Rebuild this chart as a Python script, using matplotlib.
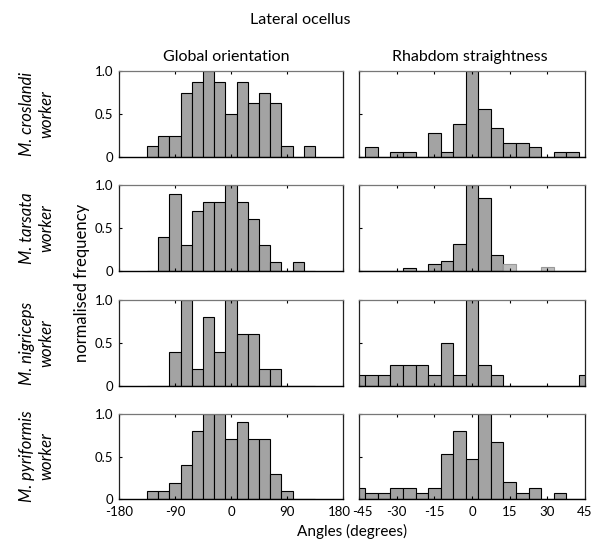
import numpy as np
import matplotlib
matplotlib.use("Agg")
import matplotlib.pyplot as plt
from matplotlib.transforms import ScaledTranslation

plt.rcParams['font.family'] = ['Lato', 'DejaVu Sans']

species = ["M. croslandi", "M. tarsata", "M. nigriceps", "M. pyriformis"]

# Global orientation: bin centres (degrees), 18-degree bins
glob_centers = [-126, -108, -90, -72, -54, -36, -18, 0, 18, 36, 54, 72, 90, 108, 126]
glob_croslandi = [0.125, 0.25, 0.25, 0.75, 0.875, 1.0, 0.875, 0.5, 0.875, 0.625, 0.75, 0.625, 0.125, 0, 0.125]
glob_tarsata = [0, 0.4, 0.9, 0.3, 0.7, 0.8, 0.8, 1.0, 0.8, 0.6, 0.3, 0.1, 0, 0.1, 0]
glob_nigriceps = [0, 0, 0.4, 1.0, 0.2, 0.8, 0.4, 1.0, 0.6, 0.6, 0.2, 0.2, 0, 0, 0]
glob_pyriformis = [0.09, 0.09, 0.19, 0.40, 0.80, 1.0, 1.0, 0.71, 0.91, 0.71, 0.71, 0.29, 0.09, 0, 0]

# Rhabdom straightness: bin centres (degrees), 5-degree bins
rhab_centers = [-45, -40, -35, -30, -25, -20, -15, -10, -5, 0, 5, 10, 15, 20, 25, 30, 35, 40, 45]
rhab_croslandi = [0, 0.111, 0, 0.056, 0.056, 0, 0.278, 0.056, 0.389, 1.0, 0.556, 0.333, 0.167, 0.167, 0.111, 0, 0.056, 0.056, 0]
rhab_tarsata = [0, 0, 0, 0, 0.038, 0, 0.077, 0.115, 0.31, 1.0, 0.846, 0.19, 0, 0, 0, 0, 0, 0, 0]
rhab_tarsata_light = [0, 0, 0, 0, 0, 0, 0, 0, 0, 0, 0, 0, 0.085, 0, 0, 0.046, 0, 0, 0]
rhab_nigriceps = [0.125, 0.125, 0.125, 0.25, 0.25, 0.25, 0.125, 0.5, 0.125, 1.0, 0.25, 0.125, 0, 0, 0, 0, 0, 0, 0.125]
rhab_pyriformis = [0.133, 0.067, 0.067, 0.133, 0.133, 0.067, 0.133, 0.533, 0.8, 0.467, 1.0, 0.667, 0.2, 0.067, 0.133, 0, 0.067, 0, 0]

glob_data = [glob_croslandi, glob_tarsata, glob_nigriceps, glob_pyriformis]
rhab_data = [rhab_croslandi, rhab_tarsata, rhab_nigriceps, rhab_pyriformis]
rhab_light = [None, rhab_tarsata_light, None, None]

glob_ticks = [-180, -90, 0, 90, 180]
rhab_ticks = [-45, -30, -15, 0, 15, 30, 45]
y_ticks = [0, 0.5, 1.0]
y_ticklabels = ["0", "0.5", "1.0"]

W, H = 593, 551
fig = plt.figure(figsize=(W / 100, H / 100), dpi=100)

rows_px = [(71, 157), (185, 271), (300, 386), (414, 499)]
left_px = (119, 343)
right_px = (359, 585)

BAR = "#a3a3a3"
LIGHT = "#bdbdbd"


def make_ax(xpx, ypx):
    x0, x1 = xpx
    y0, y1 = ypx
    return fig.add_axes([x0 / W, 1 - y1 / H, (x1 - x0) / W, (y1 - y0) / H])


def style(ax, xlim, xticks, show_xlabels, show_ylabels):
    ax.set_xlim(*xlim)
    ax.set_ylim(0, 1.0)
    ax.set_xticks(xticks)
    ax.set_yticks(y_ticks)
    if show_ylabels:
        ax.set_yticklabels(y_ticklabels)
    else:
        ax.set_yticklabels([])
    if show_xlabels:
        ax.set_xticklabels([str(t) for t in xticks])
    else:
        ax.set_xticklabels([])
    ax.tick_params(direction="in", length=2.5, width=0.8, top=True, right=False,
                   labelsize=9.5, colors="black")
    ax.tick_params(axis="x", pad=5)
    ax.tick_params(axis="y", pad=4)
    for s in ["left", "bottom", "right"]:
        ax.spines[s].set_color("#222222")
        ax.spines[s].set_linewidth(0.9)
    ax.spines["top"].set_color("#777777")
    ax.spines["top"].set_linewidth(0.9)
    ax.spines["bottom"].set_color("black")
    ax.spines["bottom"].set_linewidth(1.0)


def nudge(label, dx_px):
    label.set_transform(label.get_transform() +
                        ScaledTranslation(dx_px / 100, 0, fig.dpi_scale_trans))


for i in range(4):
    axl = make_ax(left_px, rows_px[i])
    axl.bar(glob_centers, glob_data[i], width=18, color=BAR, edgecolor="black",
            linewidth=0.8, align="center")
    style(axl, (-180, 180), glob_ticks, i == 3, True)

    axr = make_ax(right_px, rows_px[i])
    axr.bar(rhab_centers, rhab_data[i], width=5, color=BAR, edgecolor="black",
            linewidth=0.8, align="center")
    if rhab_light[i] is not None:
        axr.bar(rhab_centers, rhab_light[i], width=5, color=LIGHT, edgecolor="#999999",
                linewidth=0.8, align="center")
    style(axr, (-45, 45), rhab_ticks, i == 3, False)

    if i == 3:
        fig.canvas.draw()
        nudge(axl.get_xticklabels()[-1], -4)
        nudge(axr.get_xticklabels()[0], 3)

    yc = 1 - (rows_px[i][0] + rows_px[i][1]) / 2 / H
    fig.text(27 / W, yc, species[i], rotation=90, ha="center", va="center",
             fontsize=12, style="italic")
    fig.text(46 / W, yc, "worker", rotation=90, ha="center", va="center",
             fontsize=12, style="italic")

fig.text(300 / W, 1 - 20 / H, "Lateral ocellus", ha="center", va="center", fontsize=11.5)
fig.text(226 / W, 1 - 57 / H, "Global orientation", ha="center", va="center", fontsize=11.5)
fig.text(470 / W, 1 - 57 / H, "Rhabdom straightness", ha="center", va="center", fontsize=11.5)
fig.text(82 / W, 1 - 283 / H, "normalised frequency", rotation=90, ha="center",
         va="center", fontsize=12)
fig.text(352 / W, 1 - 531 / H, "Angles (degrees)", ha="center", va="center", fontsize=11)

fig.savefig("out.png", dpi=100, facecolor="white")
